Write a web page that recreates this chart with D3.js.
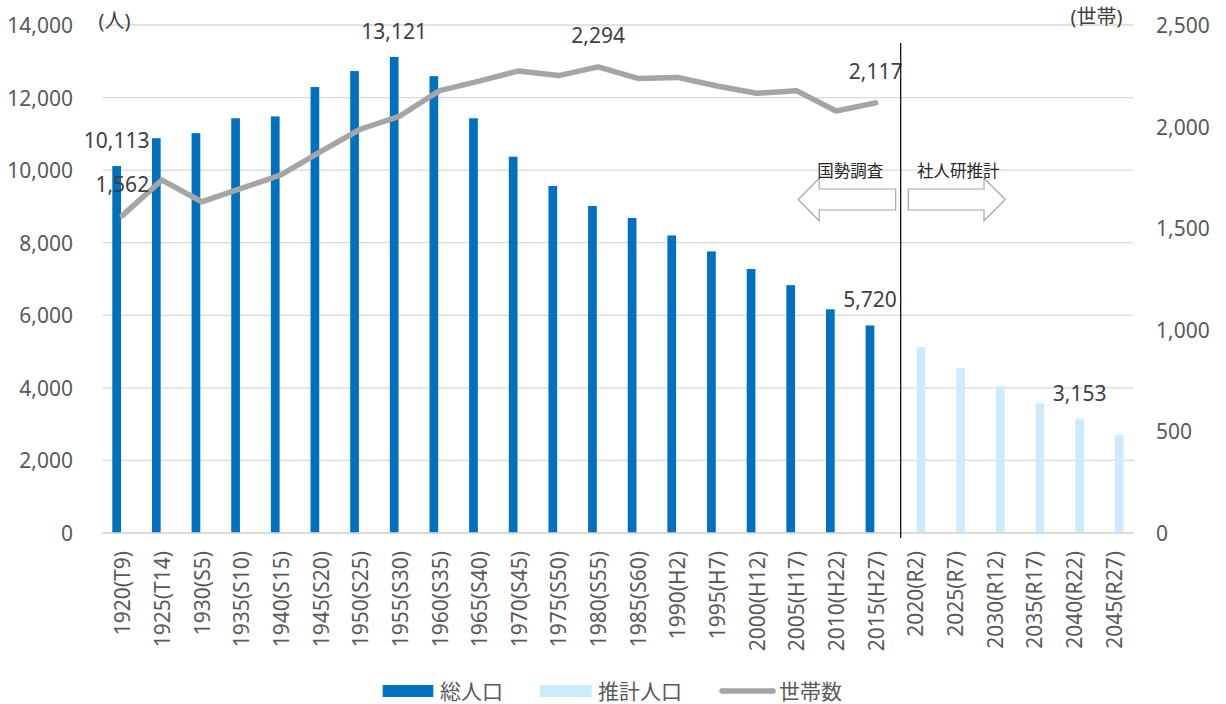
<!DOCTYPE html>
<html><head><meta charset="utf-8">
<script src="https://cdn.jsdelivr.net/npm/d3@7"></script>
<style>
html,body{margin:0;padding:0;background:#fff;}
svg{display:block;font-family:"Noto Sans","Noto Sans CJK JP",sans-serif;}
</style></head>
<body><svg id="c" width="1226" height="704"></svg>
<script>
const categories = ["1920(T9)","1925(T14)","1930(S5)","1935(S10)","1940(S15)","1945(S20)","1950(S25)","1955(S30)","1960(S35)","1965(S40)","1970(S45)","1975(S50)","1980(S55)","1985(S60)","1990(H2)","1995(H7)","2000(H12)","2005(H17)","2010(H22)","2015(H27)","2020(R2)","2025(R7)","2030(R12)","2035(R17)","2040(R22)","2045(R27)"];
const totalPop = [10113,10880,11020,11430,11480,12290,12730,13121,12590,11430,10370,9563,9012,8681,8200,7760,7276,6830,6165,5720,null,null,null,null,null,null];
const projPop = [null,null,null,null,null,null,null,null,null,null,null,null,null,null,null,null,null,null,null,null,5117,4547,4042,3574,3153,2701];
const households = [1562,1737,1630,1696,1762,1877,1987,2052,2177,2224,2274,2251,2294,2237,2242,2200,2164,2177,2077,2117,null,null,null,null,null,null];
const leftTicks = [0,2000,4000,6000,8000,10000,12000,14000];
const rightTicks = [0,500,1000,1500,2000,2500];
const seriesNames = ["総人口","推計人口","世帯数"];
const labeledBars = {"1920(T9)":10113,"1955(S30)":13121,"2015(H27)":5720,"2040(R22)":3153};
const labeledLine = {"1920(T9)":1562,"1980(S55)":2294,"2015(H27)":2117};

const svg = d3.select("#c");
const L = 102.5, R = 1133.4, T = 25, B = 533;
const x = d3.scaleBand().domain(categories).range([L, R]);
const xs = d3.scaleBand().domain(["total","proj"]).range([0, x.bandwidth()]).paddingInner(0.233).paddingOuter(0.863);
const y0 = d3.scaleLinear().domain([0,14000]).range([B,T]);
const y1 = d3.scaleLinear().domain([0,2500]).range([B,T]);
const tickColor = "#595959", labelColor = "#404040";

// gridlines
svg.append("g").selectAll("line").data(leftTicks).join("line")
  .attr("x1", L).attr("x2", R).attr("y1", d=>y0(d)).attr("y2", d=>y0(d))
  .attr("stroke", "#d9d9d9").attr("stroke-width", 1.3);

// left tick labels
svg.append("g").selectAll("text").data(leftTicks).join("text")
  .attr("x", L-29.5).attr("y", d=>y0(d)).attr("text-anchor","end").attr("dominant-baseline","central")
  .attr("font-size", 21).attr("fill", tickColor).text(d=>d3.format(",")(d));
// right tick labels
svg.append("g").selectAll("text").data(rightTicks).join("text")
  .attr("x", R+22.6).attr("y", d=>y1(d)).attr("text-anchor","start").attr("dominant-baseline","central")
  .attr("font-size", 21).attr("fill", tickColor).text(d=>d3.format(",")(d));

// x labels
svg.append("g").selectAll("text").data(categories).join("text")
  .attr("transform", d=>`translate(${x(d)+x.bandwidth()/2},${B+18}) rotate(-90)`)
  .attr("text-anchor","end").attr("dominant-baseline","central")
  .attr("font-size", 21).attr("fill", tickColor).text(d=>d);

// axis titles
svg.append("text").attr("x", L-4).attr("y", 20).attr("dominant-baseline","central")
  .attr("font-size", 20).attr("fill", labelColor).text("(人)");
svg.append("text").attr("x", R-11).attr("y", 16).attr("text-anchor","end").attr("dominant-baseline","central")
  .attr("font-size", 20).attr("fill", labelColor).text("(世帯)");

// bars
const barData = categories.map((c,i)=>({c, total: totalPop[i], proj: projPop[i]}));
svg.append("g").selectAll("rect").data(barData.filter(d=>d.total!=null)).join("rect")
  .attr("x", d=>x(d.c)+xs("total")).attr("width", xs.bandwidth())
  .attr("y", d=>y0(d.total)).attr("height", d=>B-y0(d.total)).attr("fill", "#0070c0");
svg.append("g").selectAll("rect").data(barData.filter(d=>d.proj!=null)).join("rect")
  .attr("x", d=>x(d.c)+xs("proj")).attr("width", xs.bandwidth())
  .attr("y", d=>y0(d.proj)).attr("height", d=>B-y0(d.proj)).attr("fill", "#cdebfd");

// x axis line
svg.append("line").attr("x1", L).attr("x2", R).attr("y1", B).attr("y2", B).attr("stroke","#d9d9d9").attr("stroke-width",1.3);

// household line
const lineData = categories.map((c,i)=>({c, v: households[i]})).filter(d=>d.v!=null);
svg.append("path").datum(lineData)
  .attr("d", d3.line().x(d=>x(d.c)+x.bandwidth()/2).y(d=>y1(d.v)))
  .attr("fill","none").attr("stroke","#a5a5a5").attr("stroke-width",5.5)
  .attr("stroke-linejoin","round").attr("stroke-linecap","round");

// bar labels
Object.entries(labeledBars).forEach(([c,v])=>{
  const key = totalPop[categories.indexOf(c)]!=null ? "total" : "proj";
  svg.append("text").attr("x", x(c)+xs(key)+xs.bandwidth()/2).attr("y", y0(v)-18)
    .attr("text-anchor","middle").attr("font-size",21).attr("fill",labelColor).text(d3.format(",")(v));
});
// line labels
Object.entries(labeledLine).forEach(([c,v])=>{
  svg.append("text").attr("x", x(c)+x.bandwidth()/2).attr("y", y1(v)-24)
    .attr("text-anchor","middle").attr("font-size",21).attr("fill",labelColor).text(d3.format(",")(v));
});

// divider and annotations
const dx = x("2020(R2)") + 5.2;
svg.append("line").attr("x1", dx).attr("x2", dx).attr("y1", 43).attr("y2", B+5)
  .attr("stroke","#000").attr("stroke-width",1.2);
const ay = 199.5;
const la = [[dx-102.5,ay],[dx-81.5,ay-21.2],[dx-81.5,ay-10.5],[dx-5,ay-10.5],[dx-5,ay+10.5],[dx-81.5,ay+10.5],[dx-81.5,ay+21.2]];
const ra = [[dx+104.6,ay],[dx+83.3,ay-21.2],[dx+83.3,ay-10.5],[dx+7.6,ay-10.5],[dx+7.6,ay+10.5],[dx+83.3,ay+10.5],[dx+83.3,ay+21.2]];
[la,ra].forEach(p=>{
  svg.append("path").attr("d", d3.line()(p)+"Z").attr("fill","#fff").attr("stroke","#a6a6a6").attr("stroke-width",1.2);
});
svg.append("text").attr("x", dx-50.5).attr("y", 170).attr("text-anchor","middle").attr("dominant-baseline","central")
  .attr("font-size",16.5).attr("fill","#262626").text("国勢調査");
svg.append("text").attr("x", dx+57.5).attr("y", 170).attr("text-anchor","middle").attr("dominant-baseline","central")
  .attr("font-size",16.5).attr("fill","#262626").text("社人研推計");

// legend
const ly = 690;
const lg = svg.append("g").attr("font-size",21).attr("fill",tickColor).attr("font-family","'Noto Sans CJK JP',sans-serif");
lg.append("rect").attr("x",382.7).attr("y",ly-5).attr("width",50.6).attr("height",12).attr("fill","#0070c0");
lg.append("text").attr("x",440).attr("y",ly).attr("dominant-baseline","central").text(seriesNames[0]);
lg.append("rect").attr("x",540).attr("y",ly-5).attr("width",51.7).attr("height",12).attr("fill","#cdebfd");
lg.append("text").attr("x",598).attr("y",ly).attr("dominant-baseline","central").text(seriesNames[1]);
lg.append("line").attr("x1",722).attr("x2",773).attr("y1",ly+1).attr("y2",ly+1).attr("stroke","#a5a5a5").attr("stroke-width",5.5).attr("stroke-linecap","round");
lg.append("text").attr("x",779).attr("y",ly).attr("dominant-baseline","central").text(seriesNames[2]);
</script></body></html>
